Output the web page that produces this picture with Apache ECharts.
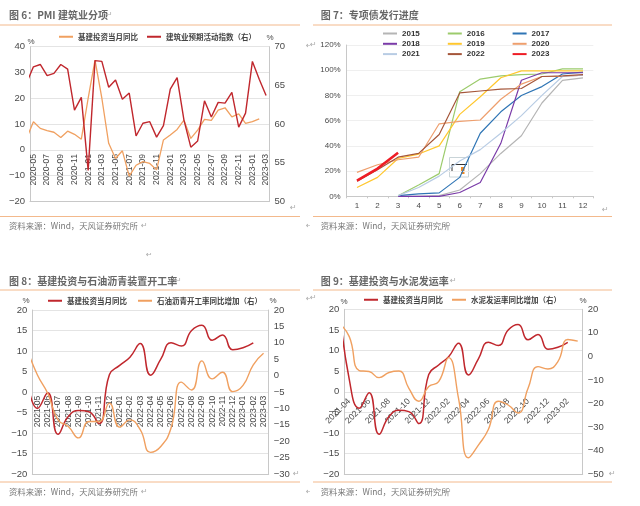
<!DOCTYPE html>
<html><head><meta charset="utf-8">
<script src="https://cdn.jsdelivr.net/npm/echarts@6/dist/echarts.min.js"></script>
<style>
html,body{margin:0;padding:0;background:#fff;width:640px;height:506px;overflow:hidden}
.p{position:absolute;width:310px;height:253px}
</style></head><body>
<div class="p" id="c1" style="left:0;top:0"></div>
<div class="p" id="c2" style="left:310px;top:0"></div>
<div class="p" id="c3" style="left:0;top:253px"></div>
<div class="p" id="c4" style="left:310px;top:253px"></div>
<script>
// Panel 6 (first entry of each series is the month clipped at the axis edge)
const months6 = ['2020-04','2020-05','2020-06','2020-07','2020-08','2020-09','2020-10','2020-11','2020-12','2021-01','2021-02','2021-03','2021-04','2021-05','2021-06','2021-07','2021-08','2021-09','2021-10','2021-11','2021-12','2022-01','2022-02','2022-03','2022-04','2022-05','2022-06','2022-07','2022-08','2022-09','2022-10','2022-11','2022-12','2023-01','2023-02','2023-03'];
const infra6 = [4.4,10.9,8.3,7.4,6.8,4.8,7.2,6,4.1,20,34.8,20,2.5,-3.4,-0.4,-10.2,-6,-4.6,-5.3,-7.8,3.8,5.7,7.9,11.5,4.4,7.6,11.8,11.4,15.4,16.3,12.8,13.9,10.2,10.9,12,null];
const pmi6 = [65.3,67.4,67.7,66.25,66.55,67.7,67.1,61.8,63.45,54,68.2,68.1,64.75,65.7,63.2,64,58.45,60.1,60.3,58.3,59.8,64.5,66,60.5,57,57.8,63,60.9,62.8,62.7,64.1,59.6,61.4,68.1,65.8,63.7];
// Panel 7
const monthNums = ['1','2','3','4','5','6','7','8','9','10','11','12'];
const y2015 = [null,null,0,0,0.5,5,18,34,48,74,92,94];
const y2016 = [null,null,0.5,9,18,83,93,95.5,96.5,97,101,101];
const y2017 = [null,null,0.5,2,2.7,15,50,67,80,87,97,98.5];
const y2018 = [null,null,0,0,0,3,11,42,92,98,98,98];
const y2019 = [7,15,30,33.5,40,65,79,94,99.5,99.5,99.5,99.5];
const y2020 = [19,25,29,31,57.5,59.5,60.5,77,89,95,95,96];
const y2021 = [null,null,0.5,7,16,28,37,50,64,80,95,96];
const y2022 = [12,21,31,34,49,82,83.5,85,85.5,95,95.5,96.5];
const y2023 = [12.5,22,34.5,null,null,null,null,null,null,null,null,null];
// Panel 8
const months8 = ['2021-04','2021-05','2021-06','2021-07','2021-08','2021-09','2021-10','2021-11','2021-12','2022-01','2022-02','2022-03','2022-04','2022-05','2022-06','2022-07','2022-08','2022-09','2022-10','2022-11','2022-12','2023-01','2023-02','2023-03'];
const infra8 = [3,-4,-0.2,-10.3,-6,-4.5,-4.8,-7.7,4.2,6.5,8.5,11.8,4.1,8,12,11.2,15,16.3,12.6,13.9,10.3,10.8,12,null];
const asphalt8 = [8,0.2,-5.4,-13.5,-15.5,-19,-14,-14,-8.4,-15.7,-13.5,-16.5,-23.4,-21.6,-16,-2,-4.4,4.5,-1,1,-4.9,-3,3.3,6.8];
// Panel 9
const months9 = ['2021-03','2021-04','2021-05','2021-06','2021-07','2021-08','2021-09','2021-10','2021-11','2021-12','2022-01','2022-02','2022-03','2022-04','2022-05','2022-06','2022-07','2022-08','2022-09','2022-10','2022-11','2022-12','2023-01','2023-02','2023-03'];
const infra9 = [21,3,-4,-0.2,-10.3,-6,-4.5,-4.8,-7.7,4.2,6.5,8.5,11.8,4.1,8,12,11.2,15,16.3,12.6,13.9,10.3,10.8,12,null];
const cement9 = [14,8.4,-6,-6.4,-9,-6.8,-6.2,-13.5,-19,-12.8,-10.7,-0.5,-17.8,-43,-37.6,-31,-19,-20.6,-24,-13.5,-4.3,-5.3,-2.2,7.2,6.5];

const RED='#C0272D', ORANGE='#F0A060', TXT='#4a4a4a', RULE='#F3B98C', AX='#C8C8C8', GRID='#E4E4E4';
const SANS='"Liberation Sans","Noto Sans CJK SC",sans-serif';
const CJK='"Noto Sans CJK SC","Liberation Sans",sans-serif';
const minus=v=>String(v).replace('-','\u2212');

function decor(title,source,titleY,ruleT,ruleB,srcY,x0,x1,tx,units,marks){
  const g=[
    {type:'line',shape:{x1:x0,y1:ruleT,x2:x1,y2:ruleT},style:{stroke:RULE,lineWidth:1},silent:true},
    {type:'line',shape:{x1:x0,y1:ruleB,x2:x1,y2:ruleB},style:{stroke:RULE,lineWidth:1},silent:true},
    {type:'text',x:tx,y:titleY,style:{text:title,font:'bold 10px '+CJK,fill:'#666',textVerticalAlign:'middle'},silent:true},
    {type:'text',x:tx,y:srcY,style:{text:source,font:'8.4px '+CJK,fill:'#777',textVerticalAlign:'middle'},silent:true}
  ];
  units.forEach(u=>g.push({type:'text',x:u[0],y:u[1],style:{text:'%',font:'8px '+SANS,fill:TXT,textAlign:'center',textVerticalAlign:'middle'},silent:true}));
  marks.forEach(m=>g.push({type:'text',x:m[0],y:m[1],style:{text:'\u21B5',font:'8px "DejaVu Sans"',fill:'#aaa',textVerticalAlign:'middle'},silent:true}));
  return g;
}
function legend(items,left,top,gap){
  return {data:items,left:left,top:top,padding:0,itemGap:gap,icon:'rect',itemWidth:14,itemHeight:2,orient:'horizontal',selectedMode:false,
    textStyle:{fontSize:7.5,fontWeight:'bold',fontFamily:CJK,color:'#444'}};
}
function yAxis(min,max,interval,pos,fontSize){
  return {type:'value',min,max,interval,position:pos,
    axisLine:{show:true,onZero:false,lineStyle:{color:AX}},axisTick:{show:false},
    splitLine:{show:pos==='left',lineStyle:{color:GRID}},
    axisLabel:{color:TXT,fontSize:fontSize||9.5,fontFamily:SANS,margin:5,formatter:minus}};
}
function series(name,data,color,yIdx,smooth,w){
  return {name,type:'line',data,yAxisIndex:yIdx||0,smooth:!!smooth,showSymbol:false,symbol:'none',
    lineStyle:{color,width:w||1.4},itemStyle:{color},connectNulls:false,animation:false};
}
function monthAxis(cats,rot,margin,step){
  return {type:'category',data:cats,min:1,boundaryGap:true,
    axisLine:{onZero:false,lineStyle:{color:AX}},axisTick:{show:false},
    axisLabel:{rotate:rot,margin,fontSize:8.6,color:TXT,fontFamily:SANS,hideOverlap:false,
      interval:(i)=>(i-1)%step===0}};
}
const base={animation:false,textStyle:{fontFamily:SANS},tooltip:{show:false}};

// Panel 6
echarts.init(document.getElementById('c1')).setOption(Object.assign({},base,{
  grid:{left:30,right:310-269.5,top:46.7,bottom:253-201.3},
  legend:[legend(['基建投资当月同比','建筑业预期活动指数（右）'],59,33,9)],
  xAxis:monthAxis(months6,90,-47.3,2),
  yAxis:[yAxis(-20,40,10,'left'),yAxis(50,70,5,'right')],
  series:[series('基建投资当月同比',infra6,ORANGE,0,false,1.3),series('建筑业预期活动指数（右）',pmi6,RED,1,false,1.4)],
  graphic:decor('图 6：PMI 建筑业分项','资料来源：Wind，天风证券研究所',15.5,25,216.5,226,0,300,9,[[31,42],[270,38]],[[106,15],[141,226],[290,208],[306,46],[306,226]])
}));
// Panel 7
const names7=['2015','2016','2017','2018','2019','2020','2021','2022','2023'];
const vals7=[y2015,y2016,y2017,y2018,y2019,y2020,y2021,y2022,y2023];
const cols7=['#B5B5B5','#9CCB6C','#2F75B5','#7A3BA8','#FFC72E','#EE9F6E','#B8CCE4','#A5563A','#EE1C25'];
const legRow=[0,1,2].map(r=>legend([names7[r*3],names7[r*3+1],names7[r*3+2]],73,29.5+r*10.3,28));
legRow.forEach(l=>{l.textStyle.fontSize=8;l.textStyle.color='#333';l.textStyle.fontFamily=SANS;});
echarts.init(document.getElementById('c2')).setOption(Object.assign({},base,{
  grid:{left:36.7,right:310-283.3,top:45,bottom:253-196.3},
  legend:legRow,
  xAxis:{type:'category',data:monthNums,boundaryGap:true,axisLine:{lineStyle:{color:AX}},axisTick:{show:true,length:2,lineStyle:{color:AX}},
    axisLabel:{color:TXT,fontSize:8,margin:5,fontFamily:SANS,interval:0}},
  yAxis:[{type:'value',min:0,max:120,interval:20,axisLine:{show:true,lineStyle:{color:AX}},axisTick:{show:false},
    splitLine:{lineStyle:{color:'#EFEFEF'}},axisLabel:{color:TXT,fontSize:8,margin:6,fontFamily:SANS,formatter:'{value}%'}}],
  series:names7.map((n,i)=>series(n,vals7[i],cols7[i],0,false,n==='2023'?2.6:1.2)),
  graphic:decor('图 7：专项债发行进度','资料来源：Wind，天风证券研究所',15.5,25,216.5,226,3,302,10.7,[],[[103,15],[135,226],[292,210],[0,45]]).concat([
    {type:'rect',shape:{x:139.5,y:157.5,width:19,height:19.5},style:{fill:'#fff',stroke:'#C9D4D8',lineWidth:1},silent:true},
    {type:'polyline',shape:{points:[[157,164.5],[142,164.5],[142,171.5],[150,171.5]]},style:{stroke:'#333',lineWidth:1,fill:null},silent:true},
    {type:'rect',shape:{x:151,y:167,width:3.5,height:7},style:{fill:'#F08A24'},silent:true}
  ])
}));
// Panel 8
echarts.init(document.getElementById('c3')).setOption(Object.assign({},base,{
  grid:{left:32.3,right:310-268.7,top:57,bottom:253-221},
  legend:[legend(['基建投资当月同比','石油沥青开工率同比增加（右）'],48,44,11)],
  xAxis:monthAxis(months8,90,-78.3,1),
  yAxis:[yAxis(-20,20,5,'left'),yAxis(-30,20,5,'right')],
  series:[series('基建投资当月同比',infra8,RED,0,true,1.5),series('石油沥青开工率同比增加（右）',asphalt8,ORANGE,1,true,1.4)],
  graphic:decor('图 8：基建投资与石油沥青装置开工率','资料来源：Wind，天风证券研究所',28.5,37,229,239,0,300,9,[[26,48],[273,48]],[[175,28],[141,239],[293,221],[306,46],[306,239]]).concat([
    {type:'text',x:146,y:2,style:{text:'\u21B5',font:'8px "DejaVu Sans"',fill:'#aaa',textVerticalAlign:'middle'},silent:true}])
}));
// Panel 9
echarts.init(document.getElementById('c4')).setOption(Object.assign({},base,{
  grid:{left:34.3,right:310-272.7,top:56.3,bottom:253-221.3},
  legend:[legend(['基建投资当月同比','水泥发运率同比增加（右）'],54,43,9)],
  xAxis:monthAxis(months9,45,-74.3,2),
  yAxis:[yAxis(-20,20,5,'left'),yAxis(-50,20,10,'right')],
  series:[series('基建投资当月同比',infra9,RED,0,true,1.5),series('水泥发运率同比增加（右）',cement9,ORANGE,1,true,1.4)],
  graphic:decor('图 9：基建投资与水泥发运率','资料来源：Wind，天风证券研究所',28.5,37,229,239,3,302,10.7,[[34,49],[273,48]],[[140,28],[135,239],[299,221],[0,45]])
}));
</script>
</body></html>
